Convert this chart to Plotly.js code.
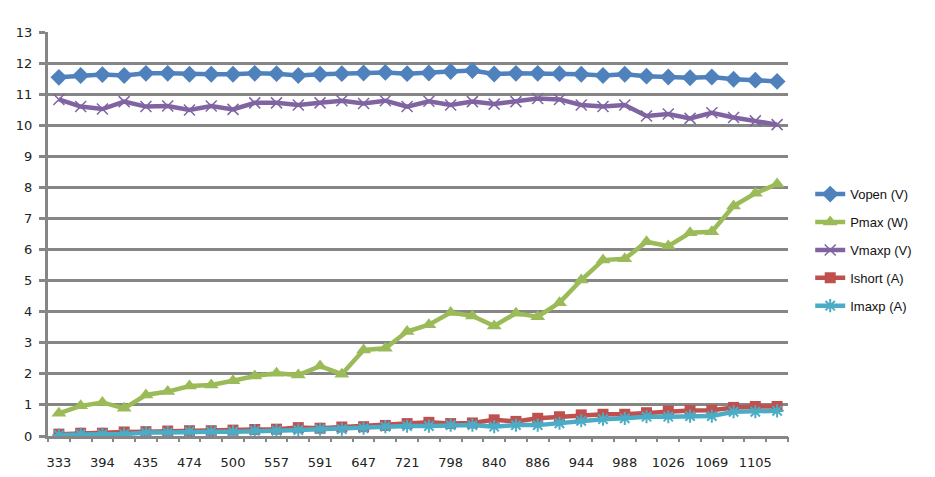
<!DOCTYPE html>
<html>
<head>
<meta charset="utf-8">
<script src="https://cdn.plot.ly/plotly-3.0.1.min.js"></script>
<style>html,body{margin:0;padding:0;background:#fff}#chart{width:935px;height:477px}</style>
</head>
<body>
<div id="chart"></div>
<script>
// Categories (irradiance levels); only every other label is printed on the axis
var categories = ["333","365","394","412","435","456","474","488","500","528","557","574","591","618","647","685","721","760","798","820","840","862","886","915","944","966","988","1007","1026","1048","1069","1087","1105","1120"];
var shownLabels = ["333","394","435","474","500","557","591","647","721","798","840","886","944","988","1026","1069","1105"];

var vopen  = [11.54,11.6,11.63,11.6,11.67,11.67,11.64,11.64,11.64,11.67,11.66,11.6,11.64,11.66,11.68,11.7,11.66,11.68,11.73,11.76,11.65,11.67,11.67,11.66,11.64,11.6,11.64,11.58,11.55,11.53,11.55,11.48,11.45,11.41];
var pmax   = [0.73,0.97,1.08,0.89,1.32,1.43,1.61,1.64,1.78,1.93,2.02,1.96,2.25,1.99,2.77,2.82,3.36,3.58,3.97,3.86,3.54,3.95,3.84,4.29,5.02,5.66,5.7,6.25,6.11,6.54,6.57,7.4,7.81,8.11];
var vmaxp  = [10.83,10.6,10.52,10.76,10.6,10.62,10.49,10.62,10.51,10.72,10.72,10.65,10.72,10.79,10.7,10.79,10.6,10.77,10.65,10.76,10.68,10.76,10.86,10.83,10.65,10.6,10.65,10.3,10.36,10.22,10.4,10.25,10.14,10.02];
var ishort = [0.06,0.09,0.09,0.13,0.14,0.16,0.17,0.17,0.19,0.21,0.22,0.27,0.25,0.29,0.3,0.34,0.4,0.44,0.4,0.42,0.52,0.47,0.57,0.62,0.68,0.7,0.7,0.75,0.8,0.82,0.83,0.92,0.95,0.95];
var imaxp  = [0.03,0.06,0.06,0.06,0.11,0.11,0.14,0.14,0.14,0.17,0.17,0.19,0.22,0.22,0.25,0.3,0.32,0.32,0.35,0.35,0.3,0.35,0.35,0.41,0.49,0.54,0.57,0.62,0.62,0.64,0.64,0.78,0.78,0.81];
var yTicks = [0,1,2,3,4,5,6,7,8,9,10,11,12,13];

function series(name, y, color, symbol, msize, mline, group) {
  return {
    type: 'scatter', mode: 'lines+markers', name: name, x: categories, y: y,
    legendgroup: group,
    line: {color: color, width: 4.5},
    marker: {symbol: symbol, size: msize, color: color, line: mline || {width: 0}},
    hoverinfo: 'x+y+name'
  };
}

var data = [
  series('Vopen (V)', vopen, '#4F81BD', 'diamond', 13, null, 'a'),
  series('Pmax (W)', pmax, '#9BBB59', 'triangle-up', 13, null, 'b'),
  series('Vmaxp (V)', vmaxp, '#8064A2', 'x-thin-open', 11, {color: '#8064A2', width: 1.5}, 'c'),
  series('Ishort (A)', ishort, '#C0504D', 'square', 11, null, 'd'),
  series('Imaxp (A)', imaxp, '#4BACC6', 'asterisk-open', 11, {color: '#4BACC6', width: 2}, 'e')
];

var layout = {
  width: 935, height: 477,
  margin: {l: 48, r: 147, t: 32, b: 41},
  paper_bgcolor: '#fff', plot_bgcolor: '#fff',
  font: {family: 'DejaVu Sans, sans-serif', size: 13, color: '#222'},
  showlegend: true,
  legend: {
    x: 1.03, xanchor: 'left', y: 0.46, yanchor: 'middle',
    font: {family: 'Liberation Sans, Arial, sans-serif', size: 13, color: '#111'},
    tracegroupgap: 8, bgcolor: 'rgba(0,0,0,0)'
  },
  xaxis: {
    type: 'category', categoryorder: 'array', categoryarray: categories,
    range: [-0.5, categories.length - 0.5],
    tickmode: 'array', tickvals: shownLabels, ticktext: shownLabels,
    ticks: '', showgrid: false, zeroline: false,
    showline: true, linecolor: '#868686', linewidth: 3,
    ticklabelstandoff: 12,
    tickfont: {family: 'DejaVu Sans, sans-serif', size: 13, color: '#222'},
    fixedrange: true
  },
  xaxis2: {
    overlaying: 'x', anchor: 'y', side: 'bottom', type: 'linear',
    range: [-0.5, categories.length - 0.5], tick0: -0.5, dtick: 1,
    ticks: 'outside', ticklen: 5, tickwidth: 2, tickcolor: '#868686',
    showticklabels: false, showgrid: false, zeroline: false, showline: false,
    fixedrange: true
  },
  yaxis: {
    range: [0, 13], tickmode: 'array', tickvals: yTicks,
    showgrid: true, gridcolor: '#868686', gridwidth: 3,
    zeroline: false, showline: true, linecolor: '#868686', linewidth: 3,
    ticks: 'outside', ticklen: 6, tickwidth: 3, tickcolor: '#868686',
    ticklabelstandoff: 4,
    tickfont: {family: 'DejaVu Sans, sans-serif', size: 13, color: '#222'},
    fixedrange: true
  }
};

// invisible helper trace so the boundary-tick axis is drawn
data.push({type: 'scatter', x: [-0.5, categories.length - 0.5], y: [null, null], xaxis: 'x2', yaxis: 'y', showlegend: false, hoverinfo: 'skip', mode: 'lines'});

Plotly.newPlot('chart', data, layout, {displayModeBar: false, staticPlot: true});
</script>
</body>
</html>
